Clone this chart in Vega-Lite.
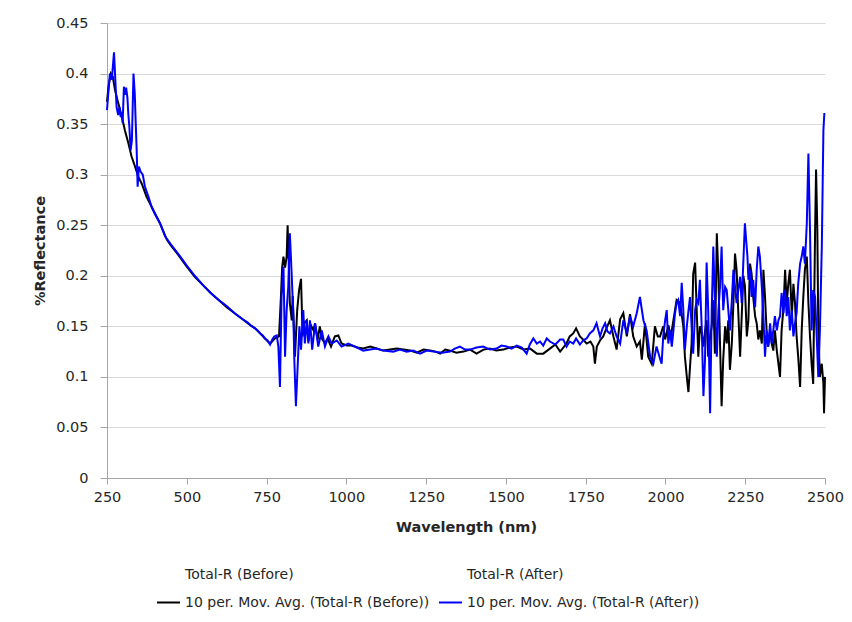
{
  "$schema": "https://vega.github.io/schema/vega-lite/v6.json",
  "autosize": "none",
  "width": 718,
  "height": 455,
  "padding": {"left": 107, "top": 23, "right": 27, "bottom": 144},
  "background": "white",
  "config": {
    "font": "DejaVu Sans",
    "view": {"stroke": null},
    "axis": {"labelColor": "#262626", "titleColor": "#262626", "labelFont": "DejaVu Sans", "titleFont": "DejaVu Sans"},
    "legend": {"labelFont": "DejaVu Sans", "labelColor": "#262626"}
  },
  "datasets": {
    "before": [
      {"w":250,"r":0.372},{"w":255,"r":0.388},{"w":262,"r":0.400},{"w":268,"r":0.397},{"w":275,"r":0.384},{"w":285,"r":0.371},{"w":296,"r":0.358},{"w":306,"r":0.344},{"w":317,"r":0.331},{"w":327,"r":0.318},{"w":338,"r":0.308},{"w":348,"r":0.298},{"w":359,"r":0.291},{"w":374,"r":0.278},{"w":395,"r":0.265},{"w":416,"r":0.252},{"w":437,"r":0.236},{"w":450,"r":0.230},{"w":475,"r":0.220},{"w":500,"r":0.209},{"w":525,"r":0.199},{"w":550,"r":0.191},{"w":575,"r":0.183},{"w":600,"r":0.176},{"w":625,"r":0.169},{"w":650,"r":0.163},{"w":675,"r":0.157},{"w":700,"r":0.151},{"w":714,"r":0.148},{"w":730,"r":0.143},{"w":745,"r":0.138},{"w":761,"r":0.133},{"w":776,"r":0.138},{"w":789,"r":0.140},{"w":795,"r":0.179},{"w":799,"r":0.209},{"w":803,"r":0.219},{"w":808,"r":0.208},{"w":813,"r":0.219},{"w":816,"r":0.250},{"w":820,"r":0.209},{"w":823,"r":0.173},{"w":829,"r":0.156},{"w":832,"r":0.180},{"w":839,"r":0.120},{"w":846,"r":0.166},{"w":852,"r":0.186},{"w":858,"r":0.197},{"w":863,"r":0.140},{"w":868,"r":0.153},{"w":876,"r":0.156},{"w":881,"r":0.135},{"w":889,"r":0.151},{"w":897,"r":0.146},{"w":902,"r":0.153},{"w":910,"r":0.137},{"w":917,"r":0.150},{"w":923,"r":0.138},{"w":933,"r":0.133},{"w":941,"r":0.138},{"w":952,"r":0.130},{"w":964,"r":0.140},{"w":975,"r":0.141},{"w":985,"r":0.133},{"w":1001,"r":0.131},{"w":1017,"r":0.131},{"w":1035,"r":0.129},{"w":1053,"r":0.128},{"w":1075,"r":0.130},{"w":1095,"r":0.128},{"w":1115,"r":0.126},{"w":1137,"r":0.127},{"w":1158,"r":0.128},{"w":1179,"r":0.127},{"w":1200,"r":0.126},{"w":1221,"r":0.124},{"w":1242,"r":0.127},{"w":1262,"r":0.126},{"w":1280,"r":0.125},{"w":1294,"r":0.123},{"w":1310,"r":0.127},{"w":1325,"r":0.126},{"w":1345,"r":0.124},{"w":1367,"r":0.125},{"w":1388,"r":0.127},{"w":1408,"r":0.123},{"w":1430,"r":0.127},{"w":1450,"r":0.128},{"w":1470,"r":0.126},{"w":1492,"r":0.127},{"w":1512,"r":0.129},{"w":1534,"r":0.130},{"w":1555,"r":0.127},{"w":1576,"r":0.128},{"w":1597,"r":0.123},{"w":1617,"r":0.123},{"w":1638,"r":0.128},{"w":1655,"r":0.132},{"w":1670,"r":0.125},{"w":1690,"r":0.133},{"w":1700,"r":0.140},{"w":1711,"r":0.143},{"w":1720,"r":0.148},{"w":1732,"r":0.140},{"w":1745,"r":0.136},{"w":1753,"r":0.133},{"w":1765,"r":0.135},{"w":1774,"r":0.130},{"w":1779,"r":0.113},{"w":1785,"r":0.130},{"w":1795,"r":0.136},{"w":1805,"r":0.140},{"w":1815,"r":0.148},{"w":1826,"r":0.156},{"w":1837,"r":0.140},{"w":1847,"r":0.127},{"w":1858,"r":0.157},{"w":1868,"r":0.163},{"w":1879,"r":0.140},{"w":1889,"r":0.162},{"w":1899,"r":0.140},{"w":1910,"r":0.130},{"w":1920,"r":0.135},{"w":1926,"r":0.117},{"w":1936,"r":0.153},{"w":1946,"r":0.120},{"w":1957,"r":0.113},{"w":1967,"r":0.150},{"w":1976,"r":0.140},{"w":1983,"r":0.140},{"w":1993,"r":0.150},{"w":1999,"r":0.137},{"w":2009,"r":0.151},{"w":2017,"r":0.140},{"w":2025,"r":0.156},{"w":2035,"r":0.176},{"w":2046,"r":0.173},{"w":2056,"r":0.150},{"w":2061,"r":0.120},{"w":2067,"r":0.100},{"w":2072,"r":0.085},{"w":2077,"r":0.110},{"w":2082,"r":0.133},{"w":2087,"r":0.202},{"w":2093,"r":0.213},{"w":2098,"r":0.166},{"w":2103,"r":0.120},{"w":2108,"r":0.150},{"w":2114,"r":0.143},{"w":2119,"r":0.130},{"w":2124,"r":0.145},{"w":2129,"r":0.156},{"w":2134,"r":0.120},{"w":2140,"r":0.140},{"w":2145,"r":0.150},{"w":2150,"r":0.176},{"w":2155,"r":0.123},{"w":2161,"r":0.242},{"w":2166,"r":0.199},{"w":2171,"r":0.133},{"w":2176,"r":0.071},{"w":2181,"r":0.117},{"w":2187,"r":0.150},{"w":2192,"r":0.133},{"w":2197,"r":0.156},{"w":2202,"r":0.107},{"w":2208,"r":0.133},{"w":2213,"r":0.173},{"w":2218,"r":0.222},{"w":2223,"r":0.206},{"w":2228,"r":0.166},{"w":2234,"r":0.120},{"w":2239,"r":0.160},{"w":2244,"r":0.200},{"w":2249,"r":0.190},{"w":2255,"r":0.140},{"w":2260,"r":0.156},{"w":2265,"r":0.212},{"w":2270,"r":0.202},{"w":2275,"r":0.179},{"w":2281,"r":0.160},{"w":2286,"r":0.153},{"w":2291,"r":0.137},{"w":2296,"r":0.146},{"w":2302,"r":0.133},{"w":2307,"r":0.206},{"w":2312,"r":0.179},{"w":2317,"r":0.146},{"w":2322,"r":0.130},{"w":2328,"r":0.146},{"w":2333,"r":0.133},{"w":2338,"r":0.126},{"w":2343,"r":0.146},{"w":2349,"r":0.126},{"w":2354,"r":0.113},{"w":2359,"r":0.100},{"w":2364,"r":0.146},{"w":2370,"r":0.169},{"w":2375,"r":0.206},{"w":2380,"r":0.173},{"w":2385,"r":0.192},{"w":2390,"r":0.206},{"w":2396,"r":0.160},{"w":2401,"r":0.192},{"w":2406,"r":0.173},{"w":2411,"r":0.140},{"w":2416,"r":0.120},{"w":2422,"r":0.090},{"w":2427,"r":0.146},{"w":2432,"r":0.179},{"w":2437,"r":0.206},{"w":2443,"r":0.219},{"w":2448,"r":0.173},{"w":2453,"r":0.140},{"w":2458,"r":0.113},{"w":2463,"r":0.093},{"w":2469,"r":0.245},{"w":2472,"r":0.305},{"w":2476,"r":0.245},{"w":2479,"r":0.146},{"w":2484,"r":0.100},{"w":2490,"r":0.113},{"w":2495,"r":0.093},{"w":2497,"r":0.064},{"w":2500,"r":0.100}
    ],
    "after": [
      {"w":250,"r":0.364},{"w":254,"r":0.380},{"w":259,"r":0.400},{"w":265,"r":0.394},{"w":272,"r":0.421},{"w":276,"r":0.394},{"w":280,"r":0.367},{"w":285,"r":0.359},{"w":289,"r":0.367},{"w":293,"r":0.357},{"w":297,"r":0.362},{"w":299,"r":0.351},{"w":303,"r":0.387},{"w":306,"r":0.379},{"w":310,"r":0.386},{"w":314,"r":0.376},{"w":317,"r":0.359},{"w":320,"r":0.348},{"w":324,"r":0.324},{"w":328,"r":0.334},{"w":333,"r":0.400},{"w":337,"r":0.380},{"w":340,"r":0.351},{"w":343,"r":0.324},{"w":346,"r":0.288},{"w":350,"r":0.308},{"w":355,"r":0.303},{"w":362,"r":0.300},{"w":369,"r":0.288},{"w":380,"r":0.278},{"w":390,"r":0.268},{"w":400,"r":0.261},{"w":416,"r":0.252},{"w":432,"r":0.239},{"w":450,"r":0.231},{"w":475,"r":0.221},{"w":500,"r":0.210},{"w":525,"r":0.200},{"w":550,"r":0.191},{"w":575,"r":0.183},{"w":600,"r":0.176},{"w":625,"r":0.170},{"w":650,"r":0.163},{"w":675,"r":0.157},{"w":690,"r":0.154},{"w":700,"r":0.151},{"w":714,"r":0.148},{"w":722,"r":0.146},{"w":730,"r":0.143},{"w":738,"r":0.141},{"w":745,"r":0.138},{"w":753,"r":0.136},{"w":761,"r":0.132},{"w":768,"r":0.137},{"w":774,"r":0.140},{"w":782,"r":0.141},{"w":787,"r":0.130},{"w":792,"r":0.090},{"w":797,"r":0.179},{"w":803,"r":0.209},{"w":808,"r":0.120},{"w":813,"r":0.166},{"w":818,"r":0.189},{"w":823,"r":0.242},{"w":829,"r":0.199},{"w":834,"r":0.160},{"w":837,"r":0.117},{"w":842,"r":0.071},{"w":847,"r":0.107},{"w":853,"r":0.150},{"w":858,"r":0.127},{"w":865,"r":0.166},{"w":870,"r":0.133},{"w":876,"r":0.156},{"w":881,"r":0.133},{"w":886,"r":0.156},{"w":893,"r":0.127},{"w":902,"r":0.153},{"w":912,"r":0.130},{"w":923,"r":0.146},{"w":933,"r":0.130},{"w":944,"r":0.140},{"w":954,"r":0.133},{"w":970,"r":0.136},{"w":985,"r":0.130},{"w":1006,"r":0.133},{"w":1027,"r":0.130},{"w":1053,"r":0.126},{"w":1074,"r":0.127},{"w":1095,"r":0.128},{"w":1116,"r":0.126},{"w":1147,"r":0.125},{"w":1168,"r":0.127},{"w":1189,"r":0.125},{"w":1210,"r":0.126},{"w":1231,"r":0.123},{"w":1252,"r":0.126},{"w":1273,"r":0.125},{"w":1300,"r":0.124},{"w":1325,"r":0.125},{"w":1340,"r":0.128},{"w":1356,"r":0.130},{"w":1372,"r":0.127},{"w":1388,"r":0.127},{"w":1408,"r":0.129},{"w":1429,"r":0.130},{"w":1450,"r":0.127},{"w":1471,"r":0.128},{"w":1486,"r":0.131},{"w":1502,"r":0.130},{"w":1518,"r":0.128},{"w":1534,"r":0.131},{"w":1550,"r":0.129},{"w":1565,"r":0.123},{"w":1575,"r":0.132},{"w":1586,"r":0.138},{"w":1597,"r":0.133},{"w":1607,"r":0.135},{"w":1617,"r":0.131},{"w":1628,"r":0.138},{"w":1638,"r":0.135},{"w":1655,"r":0.132},{"w":1670,"r":0.137},{"w":1680,"r":0.137},{"w":1690,"r":0.130},{"w":1700,"r":0.135},{"w":1711,"r":0.133},{"w":1720,"r":0.138},{"w":1732,"r":0.132},{"w":1742,"r":0.136},{"w":1753,"r":0.138},{"w":1763,"r":0.143},{"w":1774,"r":0.146},{"w":1784,"r":0.153},{"w":1795,"r":0.140},{"w":1803,"r":0.148},{"w":1811,"r":0.153},{"w":1818,"r":0.145},{"w":1826,"r":0.143},{"w":1837,"r":0.150},{"w":1847,"r":0.140},{"w":1858,"r":0.133},{"w":1868,"r":0.156},{"w":1879,"r":0.143},{"w":1889,"r":0.160},{"w":1899,"r":0.150},{"w":1910,"r":0.163},{"w":1920,"r":0.179},{"w":1931,"r":0.156},{"w":1941,"r":0.146},{"w":1952,"r":0.120},{"w":1962,"r":0.113},{"w":1972,"r":0.130},{"w":1983,"r":0.118},{"w":1988,"r":0.113},{"w":1993,"r":0.140},{"w":1999,"r":0.156},{"w":2004,"r":0.166},{"w":2009,"r":0.133},{"w":2014,"r":0.146},{"w":2020,"r":0.130},{"w":2025,"r":0.146},{"w":2030,"r":0.163},{"w":2035,"r":0.173},{"w":2040,"r":0.176},{"w":2046,"r":0.160},{"w":2051,"r":0.193},{"w":2056,"r":0.166},{"w":2061,"r":0.127},{"w":2067,"r":0.150},{"w":2072,"r":0.165},{"w":2077,"r":0.179},{"w":2082,"r":0.150},{"w":2087,"r":0.123},{"w":2093,"r":0.166},{"w":2098,"r":0.176},{"w":2103,"r":0.173},{"w":2108,"r":0.196},{"w":2114,"r":0.146},{"w":2119,"r":0.081},{"w":2124,"r":0.117},{"w":2129,"r":0.213},{"w":2134,"r":0.166},{"w":2140,"r":0.064},{"w":2145,"r":0.166},{"w":2150,"r":0.229},{"w":2155,"r":0.173},{"w":2161,"r":0.120},{"w":2166,"r":0.166},{"w":2171,"r":0.189},{"w":2176,"r":0.229},{"w":2181,"r":0.166},{"w":2187,"r":0.189},{"w":2192,"r":0.186},{"w":2197,"r":0.166},{"w":2202,"r":0.146},{"w":2208,"r":0.175},{"w":2213,"r":0.206},{"w":2218,"r":0.189},{"w":2223,"r":0.173},{"w":2228,"r":0.185},{"w":2234,"r":0.199},{"w":2239,"r":0.173},{"w":2244,"r":0.213},{"w":2249,"r":0.252},{"w":2253,"r":0.235},{"w":2257,"r":0.219},{"w":2260,"r":0.196},{"w":2265,"r":0.206},{"w":2270,"r":0.179},{"w":2275,"r":0.196},{"w":2281,"r":0.169},{"w":2286,"r":0.206},{"w":2291,"r":0.229},{"w":2296,"r":0.219},{"w":2302,"r":0.189},{"w":2307,"r":0.160},{"w":2312,"r":0.120},{"w":2317,"r":0.146},{"w":2322,"r":0.130},{"w":2328,"r":0.153},{"w":2333,"r":0.133},{"w":2338,"r":0.146},{"w":2343,"r":0.160},{"w":2349,"r":0.146},{"w":2354,"r":0.156},{"w":2359,"r":0.160},{"w":2364,"r":0.183},{"w":2370,"r":0.163},{"w":2375,"r":0.186},{"w":2380,"r":0.160},{"w":2385,"r":0.179},{"w":2390,"r":0.146},{"w":2396,"r":0.166},{"w":2401,"r":0.140},{"w":2406,"r":0.153},{"w":2411,"r":0.163},{"w":2416,"r":0.192},{"w":2422,"r":0.212},{"w":2427,"r":0.219},{"w":2432,"r":0.229},{"w":2437,"r":0.212},{"w":2443,"r":0.252},{"w":2448,"r":0.321},{"w":2453,"r":0.245},{"w":2458,"r":0.146},{"w":2463,"r":0.186},{"w":2469,"r":0.179},{"w":2474,"r":0.140},{"w":2479,"r":0.100},{"w":2484,"r":0.146},{"w":2490,"r":0.229},{"w":2495,"r":0.344},{"w":2498,"r":0.361}
    ]
  },
  "encoding": {
    "x": {
      "field": "w", "type": "quantitative",
      "scale": {"domain": [250, 2500], "nice": false, "zero": false},
      "axis": {
        "title": "Wavelength (nm)", "titleFontSize": 14.5, "titleFontWeight": "bold", "titlePadding": 17,
        "values": [250, 500, 750, 1000, 1250, 1500, 1750, 2000, 2250, 2500],
        "format": "d",
        "labelFontSize": 14.5, "labelPadding": 6, "tickSize": 6,
        "domainColor": "#a6a6a6", "tickColor": "#a6a6a6", "grid": false, "labelFlush": false
      }
    },
    "y": {
      "field": "r", "type": "quantitative",
      "scale": {"domain": [0, 0.45], "nice": false},
      "axis": {
        "title": "%Reflectance", "titleFontSize": 14.5, "titleFontWeight": "bold", "titlePadding": 8,
        "values": [0, 0.05, 0.1, 0.15, 0.2, 0.25, 0.3, 0.35, 0.4, 0.45],
        "format": ".2~f",
        "labelFontSize": 14.5, "labelPadding": 12, "tickSize": 7,
        "domainColor": "#a6a6a6", "tickColor": "#a6a6a6",
        "grid": true, "gridColor": "#d9d9d9", "labelFlush": false
      }
    }
  },
  "layer": [
    {
      "data": {"name": "before"},
      "mark": {"type": "line", "strokeWidth": 2},
      "encoding": {
        "color": {
          "datum": "10 per. Mov. Avg. (Total-R (Before))", "type": "nominal",
          "scale": {
            "domain": ["Total-R (Before)", "10 per. Mov. Avg. (Total-R (Before))", "Total-R (After)", "10 per. Mov. Avg. (Total-R (After))"],
            "range": ["rgba(0,0,0,0)", "#000000", "rgba(0,0,0,0)", "#0000ff"]
          },
          "legend": {
            "title": null, "orient": "none", "legendX": 49, "legendY": 539,
            "columns": 2, "columnPadding": 5, "rowPadding": 8, "padding": 0,
            "symbolType": "stroke", "symbolSize": 529, "symbolStrokeWidth": 2,
            "labelFontSize": 14, "labelOffset": 4, "labelLimit": 400
          }
        }
      }
    },
    {
      "data": {"name": "after"},
      "mark": {"type": "line", "strokeWidth": 2},
      "encoding": {
        "color": {"datum": "10 per. Mov. Avg. (Total-R (After))", "type": "nominal"}
      }
    }
  ]
}
